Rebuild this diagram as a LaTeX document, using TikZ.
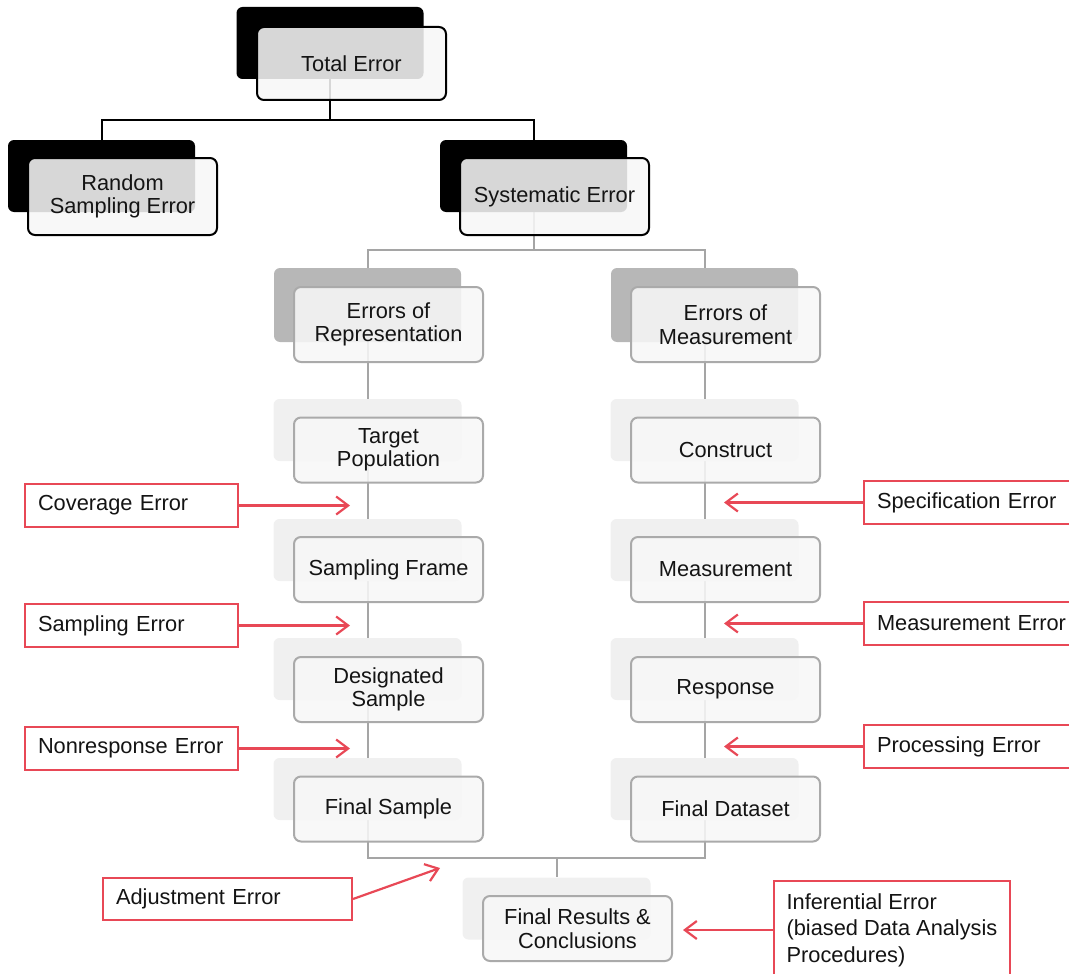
\documentclass[tikz,border=0pt]{standalone}
\usepackage{fontspec}
\setmainfont{Liberation Sans}
\usetikzlibrary{arrows.meta}
\pgfdeclarelayer{bg}
\pgfsetlayers{bg,main}
\definecolor{redc}{RGB}{232,72,86}
\definecolor{frontfill}{RGB}{247,247,247}
\definecolor{frontline}{RGB}{170,170,170}
\definecolor{conn}{RGB}{165,165,165}
\definecolor{midshadow}{RGB}{183,183,183}
\definecolor{lightshadow}{RGB}{240,240,240}
\definecolor{txt}{RGB}{20,20,20}
\begin{document}
\begin{tikzpicture}[x=1pt,y=-1pt,
  every node/.style={font=\fontsize{21.8}{23.5}\selectfont, text=txt},
  topsh/.style={rectangle, rounded corners=6, fill=black, minimum width=187, minimum height=72, inner sep=0},
  topfr/.style={rectangle, rounded corners=7, draw=black, line width=2, fill=frontfill, fill opacity=0.87, text opacity=1, minimum width=189, minimum height=75, align=center, inner sep=0},
  midsh/.style={rectangle, rounded corners=6, fill=midshadow, minimum width=187, minimum height=74, inner sep=0},
  midfr/.style={rectangle, rounded corners=7, draw=frontline, line width=2, fill=frontfill, fill opacity=0.87, text opacity=1, minimum width=189, minimum height=75, align=center, inner sep=0},
  itemsh/.style={rectangle, rounded corners=6, fill=lightshadow, minimum width=188, minimum height=62, inner sep=0},
  itemfr/.style={rectangle, rounded corners=7, draw=frontline, line width=2, fill=frontfill, fill opacity=0.87, text opacity=1, minimum width=189, minimum height=65, align=center, inner sep=0},
  lab/.style={rectangle, draw=redc, line width=2, fill=white, minimum height=43, align=left, inner xsep=13, inner ysep=0, text width=#1},
  blk/.style={draw=black, line width=2},
  gry/.style={draw=conn, line width=2},
  redarr/.style={draw=redc, line width=2.2, -{Straight Barb[length=12pt,width=18pt]}}
]
\useasboundingbox (0,0) rectangle (1069,974);
\clip (0,0) rectangle (1069,974);

% shadows
\node[topsh] (tot) at (330,43) {};
\node[topsh] (rnd) at (101.5,176) {};
\node[topsh] (sys) at (533.5,176) {};
\node[midsh] (rep) at (367.5,305) {};
\node[midsh] (mea) at (704.5,305) {};
\node[itemsh] (tp) at (367.5,430) {};
\node[itemsh] (sf) at (367.5,550) {};
\node[itemsh] (ds) at (367.5,669) {};
\node[itemsh] (fs) at (367.5,789) {};
\node[itemsh] (con) at (704.5,430) {};
\node[itemsh] (msr) at (704.5,550) {};
\node[itemsh] (rsp) at (704.5,669) {};
\node[itemsh] (fd) at (704.5,789) {};
\node[itemsh] (fr) at (556.5,908.5) {};

% connectors
\coordinate (j1) at (330,120);
\coordinate (j2) at (533.5,250);
\coordinate (j3) at (556.5,858);
\begin{pgfonlayer}{bg}
\draw[blk] (tot.south) -- (j1);
\draw[blk] (j1) -| (rnd.north);
\draw[blk] (j1) -| (sys.north);
\draw[gry] (sys.south) -- (j2);
\draw[gry] (j2) -| (rep.north);
\draw[gry] (j2) -| (mea.north);
\draw[gry] (rep.south) -- (fs.south);
\draw[gry] (mea.south) -- (fd.south);
\draw[gry] (fs.south) |- (j3);
\draw[gry] (j3) -| (fd.south);
\draw[gry] (j3) -- (fr.north);
\end{pgfonlayer}

% front boxes
\node[topfr, minimum height=73] (totF) at (351.5,63.5) {Total Error};
\node[topfr, minimum height=77] (rndF) at (122.5,196.5) {Random\\Sampling Error};
\node[topfr, minimum height=77] (sysF) at (554.5,196.5) {Systematic Error};
\node[midfr] (repF) at (388.5,324.5) {Errors of\\Representation};
\node[midfr] (meaF) at (725.5,324.5) {Errors of\\Measurement};
\node[itemfr] (tpF) at (388.5,450) {Target\\Population};
\node[itemfr] (sfF) at (388.5,569.5) {Sampling Frame};
\node[itemfr] (dsF) at (388.5,689.5) {Designated\\Sample};
\node[itemfr] (fsF) at (388.5,809) {Final Sample};
\node[itemfr] (conF) at (725.5,450) {Construct};
\node[itemfr] (msrF) at (725.5,569.5) {Measurement};
\node[itemfr] (rspF) at (725.5,689.5) {Response};
\node[itemfr] (fdF) at (725.5,809) {Final Dataset};
\node[itemfr] (frF) at (577.5,928.5) {Final Results \&\\Conclusions};

% error labels
\node[lab=187] (cov) at (131.5,505.5) {Coverage Error};
\node[lab=187] (samE) at (131.5,625.5) {Sampling Error};
\node[lab=187] (non) at (131.5,748.5) {Nonresponse Error};
\node[lab=189] (spec) at (971.5,502.5) {Specification Error};
\node[lab=189] (measE) at (971.5,623.5) {Measurement Error};
\node[lab=189] (proc) at (971.5,746.5) {Processing Error};
\node[lab=223, minimum height=42] (adj) at (227.5,899) {Adjustment Error};
\node[rectangle, draw=redc, line width=2, fill=white, minimum width=236, minimum height=98, inner sep=0, align=left, font=\fontsize{21.8}{26.5}\selectfont] (inf) at (892,930) {Inferential Error\\(biased Data Analysis\\Procedures)};

\coordinate (covT) at (350,505.5);
\coordinate (samT) at (350,625.5);
\coordinate (nonT) at (350,748.5);
\coordinate (specT) at (724,502.5);
\coordinate (measT) at (724,623.5);
\coordinate (procT) at (724,746.5);
\coordinate (adjT) at (440,868);
\coordinate (infT) at (683,930);

\draw[redarr] (cov.east) -- (covT);
\draw[redarr] (samE.east) -- (samT);
\draw[redarr] (non.east) -- (nonT);
\draw[redarr] (spec.west) -- (specT);
\draw[redarr] (measE.west) -- (measT);
\draw[redarr] (proc.west) -- (procT);
\draw[redarr] (adj.east) -- (adjT);
\draw[redarr] (inf.west) -- (infT);
\end{tikzpicture}
\end{document}
